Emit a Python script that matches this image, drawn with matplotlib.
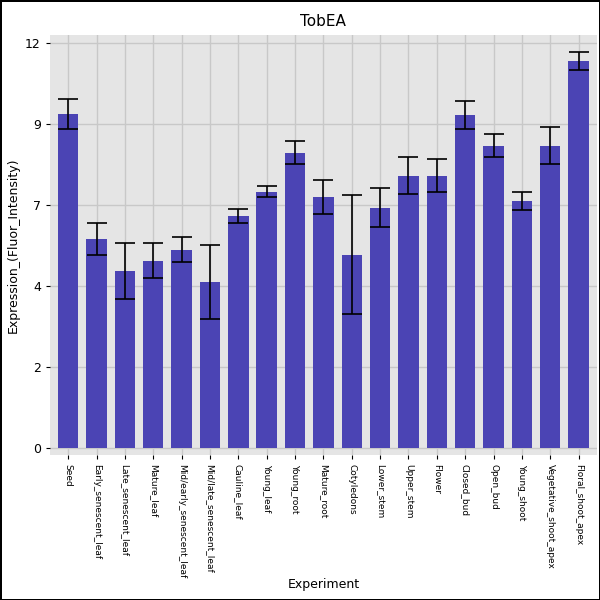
import numpy as np
import matplotlib.pyplot as plt
from matplotlib.ticker import FixedLocator, FixedFormatter

tissues = ['Seed', 'Early_senescent_leaf', 'Late_senescent_leaf', 'Mature_leaf',
           'Mid/early_senescent_leaf', 'Mid/late_senescent_leaf', 'Cauline_leaf',
           'Young_leaf', 'Young_root', 'Mature_root', 'Cotyledons', 'Lower_stem',
           'Upper_stem', 'Flower', 'Closed_bud', 'Open_bud', 'Young_shoot',
           'Vegetative_shoot_apex', 'Floral_shoot_apex']
values = [9.91, 6.2, 5.25, 5.55, 5.88, 4.93, 6.88, 7.6, 8.75, 7.45, 5.73, 7.12,
          8.07, 8.07, 9.88, 8.96, 7.33, 8.96, 11.48]
errors = [0.45, 0.47, 0.82, 0.52, 0.37, 1.10, 0.22, 0.16, 0.34, 0.50, 1.76, 0.58,
          0.55, 0.49, 0.42, 0.34, 0.27, 0.55, 0.27]
ytick_vals = [0, 2.4, 4.8, 7.2, 9.6, 12]
ytick_labels = ['0', '2', '4', '7', '9', '12']

fig = plt.figure(figsize=(6, 6), dpi=100)
fig.patch.set_edgecolor('black')
fig.patch.set_linewidth(2)
ax = fig.add_axes([0.083, 0.242, 0.912, 0.70])
ax.set_facecolor('#e5e5e5')
x = np.arange(len(tissues))
ax.bar(x, values, width=0.72, color='#4b44b4', zorder=2)
ax.errorbar(x, values, yerr=errors, fmt='none', ecolor='black', capsize=7,
            elinewidth=1.2, capthick=1.2, zorder=3)
ax.set_xlim(-0.65, len(tissues) - 0.35)
ax.set_ylim(-0.2, 12.25)
ax.yaxis.set_major_locator(FixedLocator(ytick_vals))
ax.yaxis.set_major_formatter(FixedFormatter(ytick_labels))
ax.set_xticks(x)
ax.set_xticklabels(tissues, rotation=-90, fontsize=6.5)
ax.grid(True, color='#c8c8c8', linewidth=1, zorder=0)
ax.set_axisbelow(True)
for s in ax.spines.values():
    s.set_visible(False)
ax.tick_params(axis='both', length=3)
ax.tick_params(axis='y', labelsize=9)
ax.set_title('TobEA', fontsize=11)
ax.set_ylabel('Expression_(Fluor_Intensity)', fontsize=9)
fig.text(0.54, 0.02, 'Experiment', ha='center', fontsize=9)
fig.savefig('out.png', dpi=100, edgecolor=fig.get_edgecolor())
